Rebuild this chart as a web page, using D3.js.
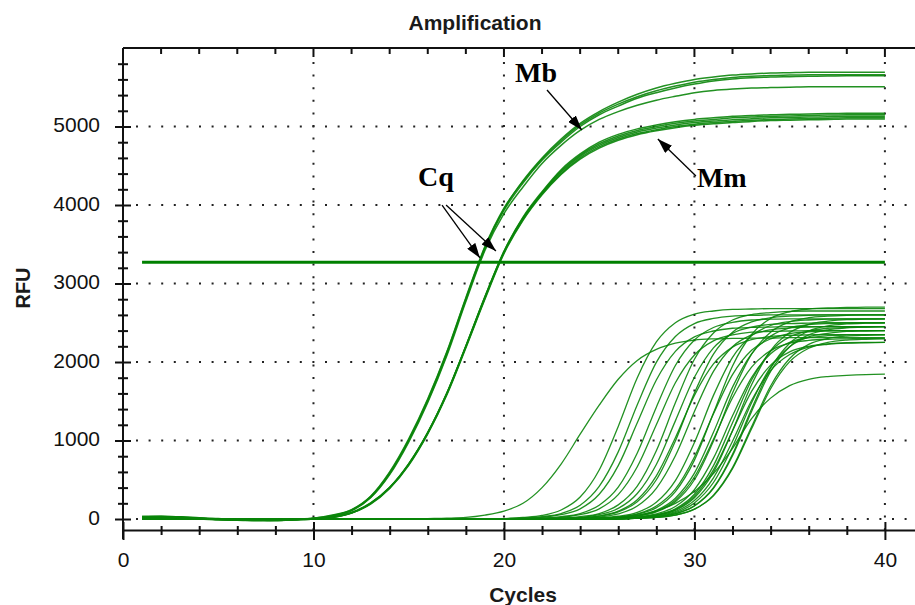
<!DOCTYPE html>
<html>
<head>
<meta charset="utf-8">
<script src="https://cdn.jsdelivr.net/npm/d3@7"></script>
<style>
  html, body { margin: 0; padding: 0; background: #fff; overflow: hidden; }
</style>
</head>
<body>
<svg id="chart" width="915" height="605"></svg>
<script>
// ---- data -------------------------------------------------------------
const cycles = [1,2,3,4,5,6,7,8,9,10,11,12,13,14,15,16,17,18,19,20,
                21,22,23,24,25,26,27,28,29,30,31,32,33,34,35,36,37,38,39,40];

const xTickLabels = [0, 10, 20, 30, 40];
const yTickLabels = [0, 1000, 2000, 3000, 4000, 5000];

// threshold used for Cq determination (RFU) and the cycles it spans
const threshold = 3270;
const thresholdSpan = [1, 40];

// Mb standard curves (RFU per cycle)
const mbRFU = [
  [30,35,25,10,0,-10,-15,-15,-5,10, 45,115,285,590,1010,1520,2120,2810,3460,3950,
   4310,4600,4840,5040,5190,5310,5410,5490,5550,5600, 5630,5655,5670,5680,5685,5690,5690,5690,5690,5690],
  [20,30,30,15,5,-5,-10,-20,-10,5, 40,110,275,575,995,1500,2100,2790,3440,3930,
   4280,4570,4800,5000,5150,5260,5360,5430,5490,5540, 5580,5605,5620,5630,5635,5640,5642,5645,5645,5645],
  [25,25,20,10,0,-5,-10,-10,0,10, 50,120,290,600,1020,1530,2130,2820,3470,3960,
   4300,4585,4820,5020,5170,5285,5380,5455,5515,5565, 5600,5625,5640,5650,5655,5660,5660,5660,5660,5660],
  [35,30,20,5,-5,-10,-20,-15,-5,5, 40,105,270,565,980,1485,2080,2770,3420,3890,
   4230,4530,4760,4950,5090,5190,5270,5335,5385,5430, 5460,5478,5490,5496,5500,5505,5505,5505,5505,5505]
];

// Mm standard curves (RFU per cycle)
const mmRFU = [
  [25,30,20,5,-5,-15,-20,-15,-10,0, 25,80,200,400,700,1100,1600,2200,2830,3410,
   3845,4170,4450,4650,4800,4900,4970,5020,5060,5090, 5110,5130,5140,5150,5155,5160,5165,5170,5170,5170],
  [30,25,15,0,-10,-15,-15,-10,-5,5, 30,85,205,405,705,1105,1605,2205,2830,3405,
   3835,4160,4435,4635,4780,4880,4950,5000,5040,5070, 5090,5110,5120,5130,5135,5140,5145,5150,5150,5150],
  [20,25,20,10,0,-10,-20,-20,-10,0, 25,80,200,400,700,1100,1600,2200,2820,3400,
   3830,4150,4420,4620,4760,4860,4930,4980,5020,5050, 5070,5085,5100,5110,5115,5120,5125,5130,5130,5130],
  [25,35,25,10,-5,-15,-15,-15,-5,5, 20,75,195,395,690,1090,1590,2190,2810,3390,
   3815,4140,4400,4600,4740,4840,4910,4960,5000,5030, 5050,5065,5080,5090,5095,5100,5105,5110,5110,5110],
  [30,30,15,5,-5,-10,-15,-20,-10,0, 20,75,190,390,685,1085,1580,2180,2800,3380,
   3805,4130,4390,4585,4725,4825,4895,4945,4985,5015, 5035,5050,5065,5075,5080,5085,5090,5095,5095,5095]
];

// sample wells (RFU per cycle)
const sampleRFU = [
  [0,0,0,0,0,0,0,0,0,0,0,0,0,0,0, 5,10,20,50,100,200,400,700,1080,1450,1780,2020,2160,2240,2280,2295,2300,2305,2305,2310,2310,2310,2310,2310,2310],
  [0,0,0,0,0,0,0,0,0,0,0,0,0,0,0, 0,0,0,0,5,20,45,115,280,625,1180,1800,2255,2500,2610,2650,2670,2675,2680,2680,2680,2680,2680,2680,2680],
  [0,0,0,0,0,0,0,0,0,0,0,0,0,0,0, 0,0,0,0,5,10,30,70,175,415,855,1455,1995,2325,2490,2555,2585,2595,2600,2600,2600,2600,2600,2600,2600],
  [0,0,0,0,0,0,0,0,0,0,0,0,0,0,0, 0,0,0,0,0,10,20,55,130,315,680,1225,1770,2135,2320,2395,2430,2440,2445,2450,2450,2450,2450,2450,2450],
  [0,0,0,0,0,0,0,0,0,0,0,0,0,0,0, 0,0,0,0,0,5,10,30,70,175,405,840,1425,1955,2280,2440,2505,2535,2545,2550,2550,2550,2550,2550,2550],
  [0,0,0,0,0,0,0,0,0,0,0,0,0,0,0, 0,0,0,0,0,0,10,20,55,130,310,665,1200,1735,2090,2270,2345,2380,2390,2395,2400,2400,2400,2400,2400],
  [0,0,0,0,0,0,0,0,0,0,0,0,0,0,0, 0,0,0,0,0,0,5,10,30,70,180,420,870,1480,2035,2370,2535,2605,2630,2645,2650,2650,2650,2650,2650],
  [0,0,0,0,0,0,0,0,0,0,0,0,0,0,0, 0,0,0,0,0,0,0,10,20,55,135,325,695,1250,1805,2180,2365,2445,2480,2490,2495,2500,2500,2500,2500],
  [0,0,0,0,0,0,0,0,0,0,0,0,0,0,0, 0,0,0,0,0,0,0,5,15,40,100,245,550,1035,1575,1975,2190,2285,2325,2340,2345,2350,2350,2350,2350],
  [0,0,0,0,0,0,0,0,0,0,0,0,0,0,0, 0,0,0,0,0,0,0,5,15,35,90,220,500,995,1605,2100,2380,2510,2565,2585,2595,2600,2600,2600,2600],
  [0,0,0,0,0,0,0,0,0,0,0,0,0,0,0, 0,0,0,0,0,0,0,5,10,25,65,165,390,805,1370,1880,2195,2345,2410,2435,2445,2450,2450,2450,2450],
  [0,0,0,0,0,0,0,0,0,0,0,0,0,0,0, 0,0,0,0,0,0,0,0,5,15,35,85,215,490,975,1575,2060,2335,2465,2515,2535,2545,2550,2550,2550],
  [0,0,0,0,0,0,0,0,0,0,0,0,0,0,0, 0,0,0,0,0,0,0,0,5,10,25,65,165,380,790,1340,1840,2150,2295,2360,2385,2395,2400,2400,2400],
  [0,0,0,0,0,0,0,0,0,0,0,0,0,0,0, 0,0,0,0,0,0,0,0,0,10,25,60,145,350,750,1350,1950,2350,2555,2640,2675,2690,2695,2700,2700],
  [0,0,0,0,0,0,0,0,0,0,0,0,0,0,0, 0,0,0,0,0,0,0,0,0,5,15,40,100,240,535,1015,1545,1935,2145,2240,2275,2290,2295,2300,2300],
  [0,0,0,0,0,0,0,0,0,0,0,0,0,0,0, 0,0,0,0,0,0,0,0,0,5,15,45,110,265,585,1105,1680,2105,2330,2435,2475,2490,2495,2500,2500],
  [0,0,0,0,0,0,0,0,0,0,0,0,0,0,0, 0,0,0,0,0,0,0,0,0,5,15,35,90,220,500,995,1605,2100,2380,2510,2565,2585,2595,2600,2600],
  [0,0,0,0,0,0,0,0,0,0,0,0,0,0,0, 0,0,0,0,0,0,0,0,0,5,10,25,65,160,375,775,1315,1800,2105,2250,2310,2335,2345,2350,2350],
  [0,0,0,0,0,0,0,0,0,0,0,0,0,0,0, 0,0,0,0,0,0,0,0,0,0,10,20,55,130,315,680,1225,1770,2135,2320,2395,2430,2440,2445,2450],
  [0,0,0,0,0,0,0,0,0,0,0,0,0,0,0, 0,0,0,0,0,0,0,0,0,0,5,15,45,110,270,595,1125,1710,2145,2375,2480,2520,2540,2545,2550],
  [0,0,0,0,0,0,0,0,0,0,0,0,0,0,0, 0,0,0,0,0,0,0,0,0,0,5,20,50,120,290,625,1125,1625,1960,2130,2200,2230,2245,2250,2250],
  [0,0,0,0,0,0,0,0,0,0,0,0,0,0,0, 0,0,0,0,0,0,0,0,0,0,5,15,35,80,205,465,920,1480,1935,2195,2320,2365,2390,2395,2400],
  [0,0,0,0,0,0,0,0,0,0,0,0,0,0,0, 0,0,0,0,0,0,0,0,0,0,5,10,30,70,170,400,825,1400,1920,2240,2395,2460,2485,2495,2500],
  [0,0,0,0,0,0,0,0,0,0,0,0,0,0,0, 0,0,0,0,0,0,0,0,0,0,0,10,20,50,125,295,640,1150,1660,2005,2175,2250,2280,2290,2295],
  [0,0,0,0,0,0,0,0,0,0,0,0,0,0,0, 0,0,0,0,0,0,0,0,0,0,5,10,25,65,165,390,805,1370,1880,2195,2345,2410,2435,2445,2450],
  [0,0,0,0,0,0,0,0,0,0,0,0,0,0,0, 0,0,0,0,0,0,0,0,0,0,0,10,20,50,125,305,655,1175,1695,2045,2225,2300,2330,2340,2345],
  [0,0,0,0,0,0,0,0,0,0,0,0,0,0,0, 0,0,0,0,0,0,0,0,0,0,5,15,40,95,235,525,990,1510,1890,2095,2190,2225,2240,2245,2250],
  [0,0,0,0,0,0,0,0,0,0,0,0,0,0,0, 0,0,0,0,0,0,0,0,5,10,25,50,105,200,350,580,900,1280,1540,1700,1780,1815,1830,1840,1845]
];

// call-out labels and arrows, in (cycle, RFU) units
const callouts = [
  { text: "Mb", at: [20.58, 5567], arrows: [[[22.26, 5465], [24.09, 4955]]] },
  { text: "Mm", at: [30.13, 4229], arrows: [[[30.08, 4369], [28.08, 4841]]] },
  { text: "Cq", at: [15.49, 4242], arrows: [[[16.75, 4000], [18.74, 3325]],
                                          [[16.96, 4000], [19.58, 3414]]] }
];

// ---- layout -----------------------------------------------------------
const svg = d3.select("#chart");
const sans = "'Liberation Sans', Arial, Helvetica, sans-serif";
const serif = "'Liberation Serif', 'Times New Roman', Times, serif";
const ink = "#111";
const green = "#0a850a";

const plotTop = 48, plotBottom = 530, plotLeft = 123, plotRight = 923;
const x = d3.scaleLinear().domain([0, 42]).range([plotLeft, plotRight]);
const y = d3.scaleLinear().domain([-140, 6000]).range([plotBottom, plotTop]);

const minorX = d3.range(0, 43, 2);
const minorY = d3.range(0, 5801, 200);
const isMajorX = d => xTickLabels.includes(d);
const isMajorY = d => yTickLabels.includes(d);

// dotted grid
svg.append("g").selectAll("line").data(yTickLabels).join("line")
  .attr("x1", plotLeft + 13).attr("x2", plotRight)
  .attr("y1", d => y(d)).attr("y2", d => y(d))
  .attr("stroke", "#222").attr("stroke-width", 2)
  .attr("stroke-dasharray", "2 10.6");
svg.append("g").selectAll("line").data(xTickLabels.filter(d => d > 0)).join("line")
  .attr("x1", d => x(d)).attr("x2", d => x(d))
  .attr("y1", plotTop + 14).attr("y2", plotBottom)
  .attr("stroke", "#222").attr("stroke-width", 2)
  .attr("stroke-dasharray", "2 10.6");

// amplification curves
const line = d3.line()
  .x((v, i) => x(cycles[i]))
  .y(v => y(v))
  .curve(d3.curveMonotoneX);

svg.append("g").attr("fill", "none").attr("stroke", green)
  .attr("stroke-width", 1.3).attr("stroke-opacity", 0.9)
  .selectAll("path").data(sampleRFU).join("path").attr("d", line);

svg.append("g").attr("fill", "none").attr("stroke", green)
  .attr("stroke-width", 1.5).attr("stroke-opacity", 0.9)
  .selectAll("path").data(mmRFU.concat(mbRFU)).join("path").attr("d", line);

// threshold
svg.append("line")
  .attr("x1", x(thresholdSpan[0])).attr("x2", x(thresholdSpan[1]))
  .attr("y1", y(threshold)).attr("y2", y(threshold))
  .attr("stroke", "#008000").attr("stroke-width", 3);

// bottom axis
const xAxis = d3.axisBottom(x).tickValues(minorX).tickSizeOuter(0)
  .tickFormat(d => isMajorX(d) ? d : "");
const gx = svg.append("g").attr("transform", `translate(0,${plotBottom})`).call(xAxis)
  .attr("font-family", sans).attr("font-size", 21);
gx.select(".domain").attr("stroke", ink).attr("stroke-width", 2);
gx.selectAll(".tick line")
  .attr("y1", d => isMajorX(d) ? -8 : -4)
  .attr("y2", d => isMajorX(d) ? 10 : 5)
  .attr("stroke", ink).attr("stroke-width", 2);
gx.selectAll(".tick text").attr("y", 37).attr("dy", null).attr("fill", ink);

// left axis
const yAxis = d3.axisLeft(y).tickValues(minorY).tickSizeOuter(0)
  .tickFormat(d => isMajorY(d) ? d : "");
const gy = svg.append("g").attr("transform", `translate(${plotLeft},0)`).call(yAxis)
  .attr("font-family", sans).attr("font-size", 21);
gy.select(".domain").remove();
gy.selectAll(".tick line")
  .attr("x1", d => isMajorY(d) ? -8 : -5)
  .attr("x2", d => isMajorY(d) ? 8 : 5)
  .attr("stroke", ink).attr("stroke-width", 2);
gy.selectAll(".tick text").attr("x", -23).attr("dy", null).attr("y", 5).attr("fill", ink);
svg.append("line")
  .attr("x1", plotLeft).attr("x2", plotLeft)
  .attr("y1", plotTop).attr("y2", plotBottom + 9)
  .attr("stroke", ink).attr("stroke-width", 2);

// top frame with inward ticks
svg.append("line")
  .attr("x1", plotLeft).attr("x2", plotRight)
  .attr("y1", plotTop).attr("y2", plotTop)
  .attr("stroke", ink).attr("stroke-width", 2);
svg.append("g").selectAll("line").data(minorX.filter(d => d > 0)).join("line")
  .attr("x1", d => x(d)).attr("x2", d => x(d))
  .attr("y1", plotTop).attr("y2", d => plotTop + (isMajorX(d) ? 9 : 6))
  .attr("stroke", ink).attr("stroke-width", 2);

// titles
svg.append("text").attr("x", 475).attr("y", 30)
  .attr("text-anchor", "middle").attr("font-family", sans)
  .attr("font-size", 21).attr("font-weight", "bold").attr("fill", "#1a1a1a")
  .text("Amplification");
svg.append("text").attr("x", (plotLeft + plotRight) / 2).attr("y", 602)
  .attr("text-anchor", "middle").attr("font-family", sans)
  .attr("font-size", 21).attr("font-weight", "bold").attr("fill", "#1a1a1a")
  .text("Cycles");
svg.append("text").attr("transform", "translate(30,288) rotate(-90)")
  .attr("text-anchor", "middle").attr("font-family", sans)
  .attr("font-size", 20).attr("font-weight", "bold").attr("fill", "#1a1a1a")
  .text("RFU");

// call-outs
svg.append("defs").append("marker")
  .attr("id", "head").attr("viewBox", "0 0 15 10")
  .attr("refX", 15).attr("refY", 5)
  .attr("markerWidth", 15).attr("markerHeight", 10)
  .attr("markerUnits", "userSpaceOnUse").attr("orient", "auto")
  .append("path").attr("d", "M0,0 L15,5 L0,10 Z").attr("fill", "#000");

const gc = svg.append("g");
callouts.forEach(c => {
  gc.append("text")
    .attr("x", x(c.at[0])).attr("y", y(c.at[1]))
    .attr("font-family", serif).attr("font-size", 28).attr("font-weight", "bold")
    .attr("fill", "#000").text(c.text);
  c.arrows.forEach(([from, to]) => {
    gc.append("line")
      .attr("x1", x(from[0])).attr("y1", y(from[1]))
      .attr("x2", x(to[0])).attr("y2", y(to[1]))
      .attr("stroke", "#000").attr("stroke-width", 1.3)
      .attr("marker-end", "url(#head)");
  });
});
</script>
</body>
</html>
